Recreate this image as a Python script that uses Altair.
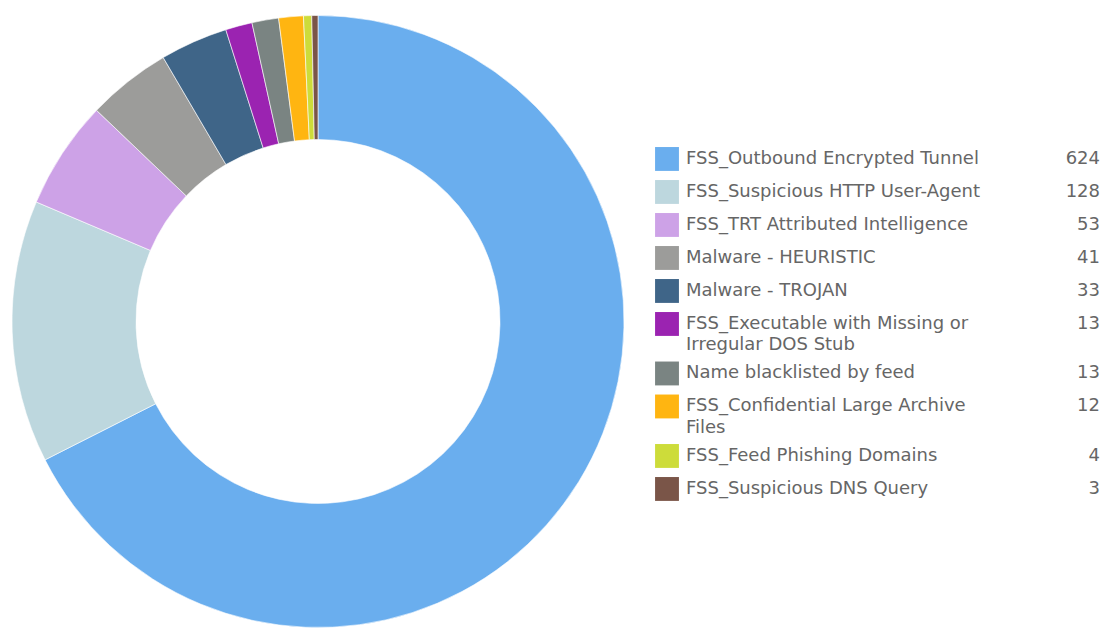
import altair as alt
import pandas as pd

labels = [
    "FSS_Outbound Encrypted Tunnel",
    "FSS_Suspicious HTTP User-Agent",
    "FSS_TRT Attributed Intelligence",
    "Malware - HEURISTIC",
    "Malware - TROJAN",
    "FSS_Executable with Missing or\nIrregular DOS Stub",
    "Name blacklisted by feed",
    "FSS_Confidential Large Archive\nFiles",
    "FSS_Feed Phishing Domains",
    "FSS_Suspicious DNS Query",
]
values = [624, 128, 53, 41, 33, 13, 13, 12, 4, 3]
colors = ["#6aaeee", "#bdd7de", "#cda2e7", "#9c9c9a", "#3f6588",
          "#9b23b1", "#7a8482", "#ffb511", "#cddc3a", "#7a5548"]

names = [l.replace("\n", " ") for l in labels]
df = pd.DataFrame({"name": names, "value": values, "order": list(range(len(names)))})

color_scale = alt.Scale(domain=names, range=colors)

donut = alt.Chart(df).mark_arc(outerRadius=306, innerRadius=182, stroke="white",
                               strokeWidth=0.6).encode(
    theta=alt.Theta("value:Q", stack=True),
    order=alt.Order("order:Q"),
    color=alt.Color("name:N", scale=color_scale, legend=None),
    x=alt.value(310),
    y=alt.value(313.5),
).properties(width=620, height=616)

# legend rows: position in row units, extra half-row for wrapped labels
rows = []
lines_rows = []
pos = 0.0
for i, (lab, v) in enumerate(zip(labels, values)):
    parts = lab.split("\n")
    rows.append({"name": names[i], "value": v, "pos": pos})
    for j, p in enumerate(parts):
        lines_rows.append({"text": p, "pos": pos + j * 0.645})
    pos += 1 + 0.5 * (len(parts) - 1)
leg = pd.DataFrame(rows)
lines = pd.DataFrame(lines_rows)

yscale = alt.Scale(domain=[-4.575, 14.092], reverse=True)

sq = alt.Chart(leg).mark_square(size=570, opacity=1).encode(
    x=alt.value(39),
    y=alt.Y("pos:Q", scale=yscale, axis=None),
    color=alt.Color("name:N", scale=color_scale, legend=None),
)
txt = alt.Chart(lines).mark_text(align="left", baseline="middle", font="DejaVu Sans",
                                 fontSize=18, color="#666666").encode(
    x=alt.value(58),
    y=alt.Y("pos:Q", scale=yscale, axis=None),
    text="text:N",
)
val = alt.Chart(leg).mark_text(align="right", baseline="middle", font="DejaVu Sans",
                               fontSize=18, color="#666666").encode(
    x=alt.value(472),
    y=alt.Y("pos:Q", scale=yscale, axis=None),
    text="value:Q",
)
legend = alt.layer(sq, txt, val).properties(width=473, height=616)

chart = alt.hconcat(donut, legend, spacing=0).properties(
    padding=0, background="white").configure_view(stroke=None)

chart.save("out.html", embed_options={"renderer": "svg", "actions": False})
